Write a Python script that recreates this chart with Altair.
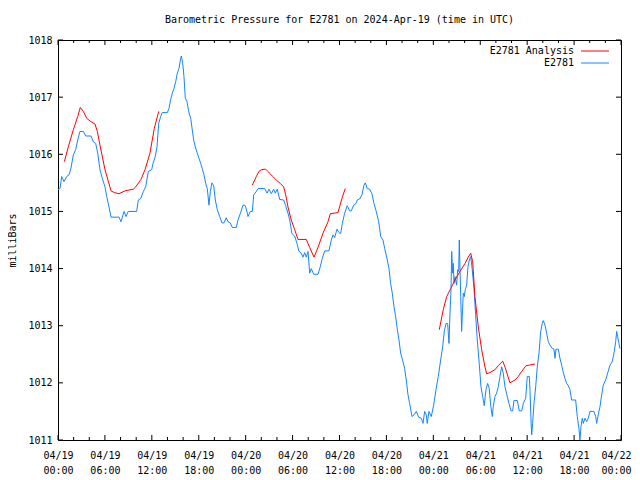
import altair as alt
import pandas as pd

FONT = "DejaVu Sans Mono"
T0 = pd.Timestamp("2024-04-19", tz="UTC")

title_text = "Barometric Pressure for E2781 on 2024-Apr-19 (time in UTC)"
series_names = ["E2781 Analysis", "E2781"]
series_colors = ["#ff0000", "#1485ff"]
y_label = "milliBars"

# Observed station series: hours after 2024-04-19 00:00 UTC, pressure in mbar
blue_h = [0.00, 0.26, 0.47, 0.77, 1.11, 1.41, 1.66, 1.96, 2.26, 2.52, 2.81, 3.24, 3.54, 4.22, 4.51, 4.82,
          5.08, 5.37, 5.66, 6.01, 6.23, 6.52, 6.78, 7.80, 8.06, 8.44, 8.70, 8.99, 10.06, 10.27, 10.61,
          10.91, 11.21, 11.55, 11.98, 12.15, 12.44, 12.66, 12.88, 13.13, 13.34, 13.98, 14.19, 14.41,
          14.62, 14.83, 15.05, 15.26, 15.47, 15.69, 15.77, 15.95, 16.11, 16.28, 16.50, 16.71, 16.97,
          17.17, 17.35, 17.56, 17.81, 18.03, 18.25, 18.45, 18.67, 18.89, 19.09, 19.31, 19.48, 19.69,
          19.91, 20.12, 20.37, 20.68, 20.97, 21.23, 21.52, 21.74, 22.03, 22.29, 22.80, 23.02, 23.31,
          23.66, 23.87, 24.00, 24.21, 24.30, 24.59, 24.85, 25.03, 25.36, 25.58, 26.43, 26.73, 26.98,
          27.28, 27.58, 27.79, 28.04, 28.35, 28.86, 29.12, 29.41, 29.63, 29.92, 30.27, 30.56, 30.82,
          31.11, 31.33, 31.55, 31.75, 31.97, 32.19, 32.39, 32.70, 33.25, 33.54, 33.80, 34.11, 34.65,
          34.95, 35.17, 35.38, 35.68, 35.93, 36.15, 36.36, 36.66, 36.99, 37.30, 37.51, 37.81, 38.07,
          38.27, 38.58, 38.87, 39.13, 39.30, 39.55, 39.86, 40.15, 40.41, 40.70, 41.01, 41.27, 41.56,
          41.78, 42.07, 42.33, 42.54, 42.75, 42.97, 43.18, 43.39, 43.61, 43.82, 44.12, 44.33, 44.54,
          44.76, 44.97, 45.27, 45.52, 45.82, 46.12, 46.46, 46.68, 46.89, 47.10, 47.22, 47.44, 47.74,
          48.04, 48.34, 48.63, 48.94, 49.19, 49.40, 49.62, 49.83, 50.00, 50.13, 50.26, 50.35, 50.47,
          50.55, 50.64, 50.77, 50.98, 51.11, 51.24, 51.32, 51.50, 51.62, 51.70, 51.83, 51.96, 52.08,
          52.26, 52.43, 52.60, 52.78, 52.98, 53.20, 53.41, 53.62, 53.87, 54.09, 54.31, 54.51, 54.73,
          54.95, 55.15, 55.33, 55.54, 55.66, 55.88, 56.10, 56.30, 56.52, 56.74, 56.94, 57.16, 57.46,
          57.67, 57.93, 58.15, 58.31, 58.74, 58.99, 59.30, 59.50, 59.81, 60.01, 60.27, 60.36, 60.49,
          60.58, 60.70, 60.87, 61.09, 61.29, 61.51, 61.73, 61.93, 62.06, 62.28, 62.49, 62.70, 62.92,
          63.21, 63.43, 63.56, 63.68, 63.98, 64.19, 64.41, 64.62, 64.83, 65.05, 65.26, 65.47, 65.69,
          66.20, 66.41, 66.62, 66.75, 66.88, 67.05, 67.17, 67.39, 67.61, 67.81, 68.03, 68.54, 68.76,
          68.89, 69.09, 69.31, 69.53, 69.73, 70.04, 70.29, 70.59, 70.88, 71.14, 71.32, 71.45, 71.57,
          71.74, 71.87]
blue_p = [1015.38, 1015.40, 1015.61, 1015.52, 1015.61, 1015.64, 1015.76, 1015.99, 1016.08, 1016.25,
          1016.40, 1016.40, 1016.32, 1016.32, 1016.22, 1016.19, 1016.02, 1015.73, 1015.58, 1015.43,
          1015.26, 1015.08, 1014.90, 1014.90, 1014.82, 1015.00, 1014.91, 1015.00, 1015.00, 1015.20,
          1015.23, 1015.35, 1015.43, 1015.70, 1015.73, 1015.84, 1015.96, 1016.13, 1016.54, 1016.66,
          1016.73, 1016.73, 1016.80, 1016.96, 1017.07, 1017.15, 1017.27, 1017.42, 1017.50, 1017.68,
          1017.72, 1017.59, 1017.36, 1016.98, 1016.92, 1016.75, 1016.63, 1016.43, 1016.25, 1016.13,
          1016.02, 1015.93, 1015.84, 1015.75, 1015.64, 1015.49, 1015.40, 1015.11, 1015.35, 1015.50,
          1015.45, 1015.20, 1015.03, 1014.91, 1014.80, 1014.80, 1014.89, 1014.82, 1014.80, 1014.72,
          1014.72, 1014.85, 1014.96, 1015.11, 1015.11, 1015.08, 1014.97, 1014.91, 1015.00, 1015.00,
          1015.29, 1015.35, 1015.40, 1015.40, 1015.32, 1015.39, 1015.31, 1015.39, 1015.32, 1015.39,
          1015.21, 1015.20, 1015.10, 1014.97, 1014.85, 1014.61, 1014.57, 1014.44, 1014.30, 1014.27,
          1014.20, 1014.28, 1014.20, 1014.30, 1013.92, 1014.00, 1013.90, 1013.90, 1014.03, 1014.18,
          1014.31, 1014.31, 1014.50, 1014.59, 1014.54, 1014.69, 1014.63, 1014.61, 1014.79, 1014.97,
          1015.10, 1015.01, 1015.01, 1015.11, 1015.13, 1015.20, 1015.22, 1015.29, 1015.46, 1015.50,
          1015.40, 1015.39, 1015.31, 1015.14, 1015.00, 1014.82, 1014.56, 1014.50, 1014.35, 1014.18,
          1014.00, 1013.74, 1013.57, 1013.33, 1013.16, 1012.94, 1012.75, 1012.52, 1012.37, 1012.25,
          1012.05, 1011.79, 1011.64, 1011.41, 1011.44, 1011.50, 1011.40, 1011.38, 1011.29, 1011.50,
          1011.44, 1011.29, 1011.50, 1011.41, 1011.61, 1011.88, 1012.11, 1012.40, 1012.63, 1012.90,
          1013.04, 1013.04, 1012.69, 1013.22, 1013.63, 1014.30, 1013.92, 1014.09, 1013.74, 1013.86,
          1013.71, 1013.98, 1013.95, 1014.50, 1013.51, 1012.90, 1013.16, 1013.57, 1013.51, 1013.63,
          1013.71, 1014.03, 1014.15, 1014.21, 1013.98, 1013.65, 1013.19, 1012.75, 1012.34, 1011.93,
          1011.76, 1011.60, 1011.88, 1011.99, 1011.90, 1011.61, 1011.41, 1011.58, 1011.76, 1011.82,
          1011.93, 1012.11, 1012.28, 1012.17, 1011.93, 1011.76, 1011.64, 1011.51, 1011.51, 1011.69,
          1011.69, 1011.51, 1011.51, 1011.64, 1011.73, 1012.11, 1012.11, 1011.88, 1011.35, 1011.09,
          1011.29, 1011.64, 1011.93, 1012.28, 1012.52, 1012.90, 1013.04, 1013.09, 1013.01, 1012.87,
          1012.72, 1012.66, 1012.60, 1012.59, 1012.43, 1012.59, 1012.59, 1012.43, 1012.31, 1012.18,
          1012.08, 1011.99, 1011.95, 1011.88, 1011.70, 1011.70, 1011.41, 1011.20, 1011.00, 1011.23,
          1011.38, 1011.29, 1011.38, 1011.32, 1011.38, 1011.50, 1011.50, 1011.41, 1011.29, 1011.44,
          1011.58, 1011.79, 1011.96, 1012.05, 1012.17, 1012.31, 1012.37, 1012.55, 1012.72, 1012.90,
          1012.81, 1012.69, 1012.60]

# Analysis series: three separate runs
red1_h = [0.81, 1.32, 1.96, 2.52, 2.85, 3.24, 3.67, 4.22, 4.73, 5.03, 5.37, 6.01, 6.78, 7.20, 7.80,
          8.57, 9.63, 9.94, 10.61, 11.13, 11.76, 12.31, 12.88]
red1_p = [1015.87, 1016.13, 1016.43, 1016.66, 1016.82, 1016.75, 1016.63, 1016.57, 1016.53, 1016.40,
          1016.16, 1015.73, 1015.36, 1015.33, 1015.31, 1015.36, 1015.39, 1015.43, 1015.56, 1015.73,
          1016.02, 1016.45, 1016.75]
red2_h = [24.85, 25.36, 25.70, 26.00, 26.56, 26.85, 27.40, 27.92, 28.43, 28.86, 29.12, 29.41, 29.83,
          30.27, 30.69, 31.75, 32.19, 32.74, 33.25, 33.89, 34.53, 34.82, 35.81, 36.36, 36.74]
red2_p = [1015.46, 1015.61, 1015.70, 1015.73, 1015.74, 1015.70, 1015.62, 1015.55, 1015.49, 1015.43,
          1015.29, 1015.08, 1014.85, 1014.68, 1014.51, 1014.51, 1014.37, 1014.20, 1014.37, 1014.62,
          1014.82, 1014.96, 1014.98, 1015.25, 1015.40]
red3_h = [48.76, 49.27, 49.71, 50.22, 50.77, 51.41, 52.05, 52.47, 52.78, 53.03, 53.32, 53.75, 54.18,
          54.60, 54.82, 55.24, 55.88, 56.30, 56.87, 57.16, 57.80, 58.44, 58.86, 59.30, 59.85, 60.27,
          61.00]
red3_p = [1012.93, 1013.28, 1013.51, 1013.65, 1013.80, 1013.95, 1014.09, 1014.20, 1014.27, 1014.12,
          1013.51, 1012.98, 1012.58, 1012.28, 1012.16, 1012.18, 1012.23, 1012.30, 1012.38, 1012.28,
          1012.00, 1012.05, 1012.11, 1012.20, 1012.30, 1012.31, 1012.33]

x_major_hours = list(range(0, 73, 6))
x_minor_hours = [h for h in range(0, 73, 2) if h % 6 != 0]
y_tick_values = [1011, 1012, 1013, 1014, 1015, 1016, 1017, 1018]


def to_ms(hours):
    return [int((T0 + pd.Timedelta(hours=h)).value // 10**6) for h in hours]


blue_df = pd.DataFrame({"t": to_ms(blue_h), "p": blue_p})
red_df = pd.concat([
    pd.DataFrame({"t": to_ms(red1_h), "p": red1_p, "seg": "a"}),
    pd.DataFrame({"t": to_ms(red2_h), "p": red2_p, "seg": "b"}),
    pd.DataFrame({"t": to_ms(red3_h), "p": red3_p, "seg": "c"}),
], ignore_index=True)
xmaj_df = pd.DataFrame({"t": to_ms(x_major_hours)})
xmin_df = pd.DataFrame({"t": to_ms(x_minor_hours)})
ytick_df = pd.DataFrame({"p": y_tick_values})
one = pd.DataFrame({"k": [0]})

W, H = 563, 400
last_tick = to_ms([72])[0]

xscale = alt.Scale(type="utc", domain=to_ms([0, 72]), nice=False)
yscale = alt.Scale(domain=[1011, 1018], nice=False, zero=False)

xaxis = alt.Axis(
    values=to_ms(x_major_hours),
    labelExpr="[utcFormat(datum.value, '%m/%d'), utcFormat(datum.value, '%H:%M')]",
    labelOffset={"expr": f"datum.value >= {last_tick} ? -5 : 0"},
    ticks=False, domain=False, grid=False, labelPadding=10, labelLineHeight=15,
    labelOverlap=False, labelFlush=False, title=None,
)
yaxis = alt.Axis(
    values=y_tick_values, format="d", ticks=False, domain=False, grid=False,
    labelPadding=6, title=y_label, titlePadding=10, titleFontWeight="normal",
    titleFont=FONT, titleFontSize=10, titleColor="black",
)

X = alt.X("t:T", scale=xscale, axis=xaxis)
Y = alt.Y("p:Q", scale=yscale, axis=yaxis)

blue = alt.Chart(blue_df).mark_line(color=series_colors[1], strokeWidth=1, clip=True).encode(x=X, y=Y)
red = alt.Chart(red_df).mark_line(color=series_colors[0], strokeWidth=1).encode(x=X, y=Y, detail="seg:N")

tick_style = dict(color="black", strokeWidth=1)
xt_bot_major = alt.Chart(xmaj_df).mark_rule(**tick_style).encode(x=X, y=alt.value(H), y2=alt.value(H - 5))
xt_top_major = alt.Chart(xmaj_df).mark_rule(**tick_style).encode(x=X, y=alt.value(0), y2=alt.value(5))
xt_bot_minor = alt.Chart(xmin_df).mark_rule(**tick_style).encode(x=X, y=alt.value(H), y2=alt.value(H - 3))
xt_top_minor = alt.Chart(xmin_df).mark_rule(**tick_style).encode(x=X, y=alt.value(0), y2=alt.value(3))
yt_left = alt.Chart(ytick_df).mark_rule(**tick_style).encode(y=Y, x=alt.value(0), x2=alt.value(5))
yt_right = alt.Chart(ytick_df).mark_rule(**tick_style).encode(y=Y, x=alt.value(W), x2=alt.value(W - 5))

txt = dict(font=FONT, fontSize=10, align="right", baseline="middle", color="black")
leg_t1 = alt.Chart(one).mark_text(**txt).encode(x=alt.value(516), y=alt.value(11), text=alt.value(series_names[0]))
leg_t2 = alt.Chart(one).mark_text(**txt).encode(x=alt.value(516), y=alt.value(23), text=alt.value(series_names[1]))
leg_l1 = alt.Chart(one).mark_rule(color=series_colors[0], strokeWidth=1).encode(
    x=alt.value(523), x2=alt.value(551), y=alt.value(11))
leg_l2 = alt.Chart(one).mark_rule(color=series_colors[1], strokeWidth=1).encode(
    x=alt.value(523), x2=alt.value(551), y=alt.value(23))

chart = alt.layer(
    blue, red,
    xt_bot_major, xt_top_major, xt_bot_minor, xt_top_minor, yt_left, yt_right,
    leg_t1, leg_t2, leg_l1, leg_l2,
).properties(
    width=W, height=H,
    title=alt.TitleParams(title_text, font=FONT, fontSize=10, fontWeight="normal",
                          anchor="middle", offset=10, color="black"),
    padding={"left": 50, "top": 32, "right": 11, "bottom": 40},
    autosize=alt.AutoSizeParams(type="none"),
    background="white",
).configure_view(
    stroke="black", strokeWidth=1
).configure_axis(
    labelFont=FONT, labelFontSize=10, labelColor="black"
)

chart.save("out.html", embed_options={"renderer": "svg", "actions": False})
